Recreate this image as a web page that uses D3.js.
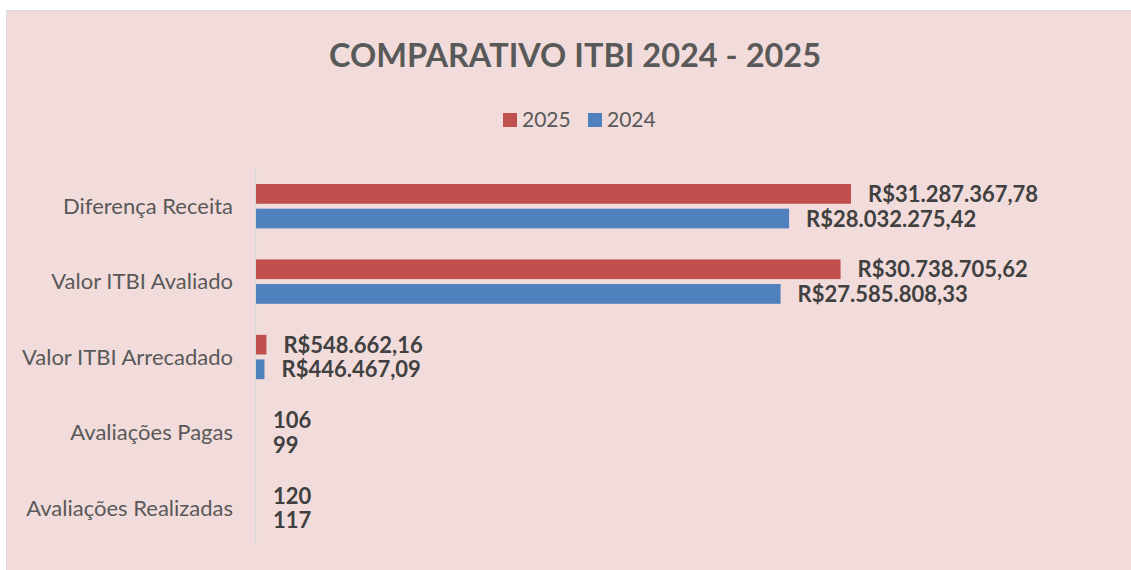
<!DOCTYPE html>
<html>
<head>
<meta charset="utf-8">
<script src="https://cdn.jsdelivr.net/npm/d3@7"></script>
<style>
  body { margin: 0; background: #fff; }
  #chart { width: 1131px; height: 570px; }
</style>
</head>
<body>
<div id="chart"></div>
<script>
// chart data
const categories = ["Diferença Receita", "Valor ITBI Avaliado", "Valor ITBI Arrecadado", "Avaliações Pagas", "Avaliações Realizadas"];
const seriesNames = ["2025", "2024"];
const values2025 = [31287367.78, 30738705.62, 548662.16, 106, 120];
const values2024 = [28032275.42, 27585808.33, 446467.09, 99, 117];
const labels2025 = ["R$31.287.367,78", "R$30.738.705,62", "R$548.662,16", "106", "120"];
const labels2024 = ["R$28.032.275,42", "R$27.585.808,33", "R$446.467,09", "99", "117"];
const colors = { "2025": "#c0504d", "2024": "#4f81bd" };

const width = 1131, height = 570;
const margin = { top: 168, left: 256, bottom: 25 };
const font = "Lato, 'Open Sans', sans-serif";

let svg = d3.select("#chart").append("svg")
    .attr("width", width)
    .attr("height", height);

// background panel
svg.append("rect")
    .attr("x", 6.5).attr("y", 10.5)
    .attr("width", width).attr("height", height)
    .attr("fill", "#f2dcdb")
    .attr("stroke", "#d9d9d9")
    .attr("stroke-width", 1);

// title
svg.append("text")
    .attr("x", 575)
    .attr("y", 67)
    .attr("text-anchor", "middle")
    .style("font-family", font)
    .style("font-weight", "bold")
    .style("font-size", "32.5px")
    .style("fill", "#595959")
    .text("COMPARATIVO ITBI 2024 - 2025");

// legend
const legend = svg.append("g").attr("transform", "translate(503,113)");
const legendItems = legend.selectAll("g")
    .data(seriesNames)
    .enter().append("g")
    .attr("transform", (d, i) => `translate(${i * 85},0)`);
legendItems.append("rect")
    .attr("width", 14).attr("height", 14)
    .attr("fill", d => colors[d]);
legendItems.append("text")
    .attr("x", 19).attr("y", 14)
    .style("font-family", font)
    .style("font-size", "21px")
    .style("fill", "#595959")
    .text(d => d);

// scales
let y = d3.scaleBand()
    .domain(categories)
    .range([margin.top, height - margin.bottom]);

let x = d3.scaleLinear()
    .domain([0, 35000000])
    .range([margin.left, margin.left + 665.6]);

let sub = d3.scaleBand()
    .domain(seriesNames)
    .range([16, y.bandwidth() - 15])
    .paddingInner(0.2);

// category axis
const axis = svg.append("g")
    .attr("transform", `translate(${margin.left - 1},0)`)
    .call(d3.axisLeft(y).tickSize(0).tickPadding(22));
axis.select(".domain").attr("stroke", "#d9d9d9").attr("stroke-width", 1.5);
axis.selectAll("text")
    .attr("dy", "0.38em")
    .style("font-family", font)
    .style("font-size", "22px")
    .style("fill", "#595959");

// bars and labels
const rows = categories.map((c, i) => ({
    cat: c,
    items: [
        { s: "2025", v: values2025[i], label: labels2025[i] },
        { s: "2024", v: values2024[i], label: labels2024[i] }
    ]
}));

const groups = svg.selectAll(".grp")
    .data(rows)
    .enter().append("g")
    .attr("class", "grp")
    .attr("transform", d => `translate(0,${y(d.cat)})`);

groups.selectAll("rect")
    .data(d => d.items)
    .enter().append("rect")
    .attr("x", x(0))
    .attr("y", d => sub(d.s))
    .attr("width", d => x(d.v) - x(0))
    .attr("height", sub.bandwidth())
    .attr("fill", d => colors[d.s]);

groups.selectAll("text")
    .data(d => d.items)
    .enter().append("text")
    .attr("x", d => x(d.v) + 17)
    .attr("y", d => sub(d.s) + sub.bandwidth() / 2)
    .attr("dy", "0.37em")
    .style("font-family", font)
    .style("font-weight", "bold")
    .style("font-size", "22px")
    .style("fill", "#404040")
    .text(d => d.label);
</script>
</body>
</html>
